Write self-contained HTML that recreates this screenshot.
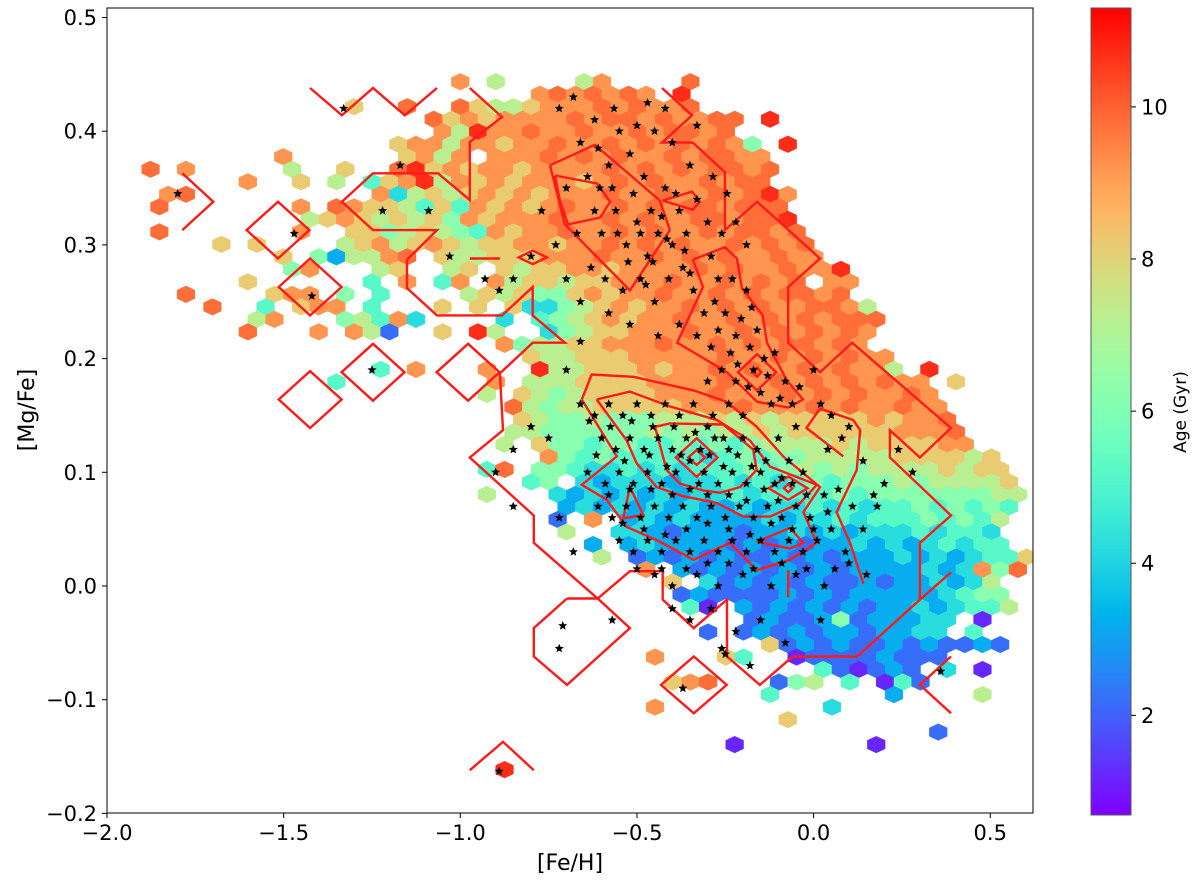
<!DOCTYPE html>
<html><head><meta charset="utf-8"><style>
html,body{margin:0;padding:0;background:#fff;}
svg text{font-family:"DejaVu Sans","Liberation Sans",sans-serif;}
</style></head><body>
<svg id="chart" width="1200" height="883" viewBox="0 0 1200 883" xmlns="http://www.w3.org/2000/svg">
<defs><clipPath id="pc"><rect x="107" y="8" width="926" height="805"/></clipPath></defs>
<g id="hexes" clip-path="url(#pc)"></g>
<g id="contours" clip-path="url(#pc)"></g>
<g id="stars" clip-path="url(#pc)"></g>
<rect x="107" y="8" width="926" height="805" fill="none" stroke="#000" stroke-width="1"/>
<g id="xaxis"></g>
<g id="yaxis"></g>
<text x="570" y="870" font-size="22" text-anchor="middle">[Fe/H]</text>
<text x="34" y="410" font-size="22" text-anchor="middle" transform="rotate(-90 34 410)">[Mg/Fe]</text>
<g id="cbar"></g>
<text x="1186" y="412" font-size="17" text-anchor="middle" transform="rotate(-90 1186 412)">Age (Gyr)</text>
</svg>
<script>
// ---- data ----
const hexRow   = [0,1,2,3,4,5,6,7,8,9,10,11,12,13,14,15,16,17,18,19,20,21,22,23,24,25,26,27,28,29,30,31,32,33,34,35,36,37,38,39,40,41,42,43,44,45,46,47,48,49,50,51,52,53,55];
const hexStart = [18,21,12,16,17,14,8,0,6,1,1,9,1,4,8,8,6,2,4,6,6,20,22,13,11,19,21,21,21,20,22,19,22,19,24,23,24,25,26,28,30,30,31,34,32,35,29,38,30,35,29,36,45,33,20];
const hexAges  = [
"9.7....79....a",
".9a9a9a9.b",
"8..a..a8778999a9a99a",
"a8989999a9aa9a99aa.b",
"97b99a99a99a9aa9a",
"899799899a99a9a9a9a96.b",
"9......8979.999a9a9a99a9aa99",
"a.9.....7..8..ab8989989999a9a9a9aa9a",
"9..8.7.589b7989899989a9a99a9aa",
"9a..........9478789898999a99a99a9ab9",
"a.......9.a988758598989a99a9a9aa9aaa",
"78987878698999a99a9a99aa9aab",
"a.......9..886787659899a99a9a99a9aa9a",
"8.8....789789878899899a9a9a99a9a9a",
"8.63779a.877888999a99a9a9a99a99",
"69...78..78.87889989999a9a99a99b",
"8......5.9.59.9788788999a99a9a9a.99",
"a....899.6.5....78786689899a99a9a9aa9a",
"a..5.899.5...8.8.8446789899a9a9a99aa97",
"79...67594....4.56789899a99a9a9a9aaa",
"a...9.972..8.b7..46788999a99a9a9a9a9",
"967788999a99a9a9aa9a9",
"87788899999a99a9a9a99",
"5.9...9..b778889899a9a99a9a997.b",
"5........9.77788889999a99a9a9a9a99.8",
"7.87678888999a999a9a9a99a9",
"a767788888999a999a9a99a99",
"876676667778787888889899a",
"7766666676767787888888999a",
"7.8665665565656777787888899",
".96565555545656677777888878",
"5a.66544545455565676767777878 8".replace(" ",""),
"56.4344434454545656667677778",
"7...434343434454555565666666677",
"34343434334344545455656565",
"2.9.3434333343445455565657",
"7..4432333233434344454554",
"3.3433332323233434345455",
"7.2323232232323334343455 8".replace(" ",""),
"9.3232323232333343496a",
"8.42323232232334347",
"2322223232333334566",
"51.3232323233434557",
"232236233344.1",
"2.2323233233 44.5".replace(" ",""),
"82323223232232",
"9...85..122223222",
"521232.4.1",
"89a...267.5.152",
"5......3....7",
"9.........4",
"8",
"2",
"1.......1",
"b"
];
const xTicks = [-2.0,-1.5,-1.0,-0.5,0.0,0.5];
const xTickLabels = ["\u22122.0","\u22121.5","\u22121.0","\u22120.5","0.0","0.5"];
const yTicks = [-0.2,-0.1,0.0,0.1,0.2,0.3,0.4,0.5];
const yTickLabels = ["\u22120.2","\u22120.1","0.0","0.1","0.2","0.3","0.4","0.5"];
const cbTicks = [2,4,6,8,10];
const cbTickLabels = ["2","4","6","8","10"];
const ageMin = 0.69, ageMax = 11.3;
const hexFe0 = -1.9018, hexDFe = 0.0501, hexMg0 = 0.4435, hexDMg = 0.011;

const contourLines = [
 [[-0.973,0.438],[-0.882,0.4125],[-0.973,0.3905],[-0.973,0.3395],[-1.063,0.363],[-1.247,0.363],[-1.335,0.338],[-1.247,0.313],[-1.066,0.313],[-1.151,0.287],[-1.151,0.262],[-1.066,0.238],[-0.882,0.238],[-0.795,0.263],[-0.795,0.238],[-0.704,0.214],[-0.795,0.214],[-0.888,0.187],[-0.879,0.137],[-0.973,0.113],[-0.792,0.062],[-0.792,0.038],[-0.611,-0.011],[-0.520,0.013],[-0.427,0.013],[-0.427,-0.012],[-0.339,-0.037],[-0.245,-0.012],[-0.245,-0.062],[-0.152,-0.087],[-0.059,-0.062],[0.123,-0.062],[0.301,-0.012],[0.301,0.038],[0.389,0.062],[0.216,0.113],[0.216,0.137],[0.301,0.113],[0.389,0.139],[0.109,0.214],[0.018,0.188],[-0.072,0.214],[-0.072,0.263],[0.018,0.288],[-0.160,0.338],[-0.251,0.313],[-0.251,0.364],[-0.342,0.390],[-0.429,0.390],[-0.344,0.414],[-0.429,0.438]],
 [[0.301,-0.012],[0.389,0.012]],
 [[0.389,-0.062],[0.301,-0.087],[0.389,-0.112]],
 [[-1.425,0.438],[-1.335,0.414],[-1.247,0.438],[-1.157,0.414],[-1.066,0.438]],
 [[-1.787,0.363],[-1.699,0.338],[-1.787,0.313]],
 [[-0.973,-0.162],[-0.879,-0.137],[-0.792,-0.162]],
 [[-0.973,0.288],[-0.888,0.288]],
 [[-0.072,0.014],[-0.072,-0.010]],
 [[-0.698,-0.011],[-0.792,-0.037],[-0.792,-0.062],[-0.698,-0.087],[-0.520,-0.037],[-0.611,-0.011],[-0.698,-0.011]],
 [[-0.746,0.370],[-0.619,0.388],[-0.435,0.339],[-0.407,0.313],[-0.520,0.260],[-0.704,0.318],[-0.746,0.370]],
 [[-0.732,0.361],[-0.613,0.354],[-0.576,0.338],[-0.604,0.324],[-0.695,0.318],[-0.718,0.339],[-0.732,0.361]],
 [[-0.427,0.339],[-0.344,0.347],[-0.322,0.338],[-0.342,0.331],[-0.427,0.339]],
 [[-0.342,0.287],[-0.251,0.298],[-0.217,0.288],[-0.203,0.262],[-0.144,0.238],[-0.132,0.214],[-0.076,0.181],[-0.030,0.164],[-0.072,0.157],[-0.160,0.162],[-0.245,0.188],[-0.386,0.214],[-0.313,0.263],[-0.342,0.287]],
 [[-0.656,0.164],[-0.628,0.186],[-0.510,0.184],[-0.340,0.172],[-0.246,0.162],[-0.161,0.140],[-0.086,0.114],[0.018,0.087],[-0.029,0.065],[0.009,0.038],[-0.067,0.023],[-0.161,0.014],[-0.237,0.038],[-0.340,0.023],[-0.435,0.039],[-0.529,0.052],[-0.586,0.076],[-0.656,0.089],[-0.557,0.114],[-0.656,0.164]],
 [[-0.614,0.164],[-0.520,0.171],[-0.407,0.158],[-0.274,0.146],[-0.180,0.128],[-0.123,0.105],[0.009,0.089],[-0.038,0.073],[-0.123,0.061],[-0.199,0.061],[-0.274,0.073],[-0.369,0.079],[-0.444,0.087],[-0.501,0.108],[-0.529,0.128],[-0.614,0.164]],
 [[-0.449,0.140],[-0.407,0.143],[-0.256,0.142],[-0.171,0.120],[-0.161,0.102],[-0.208,0.087],[-0.265,0.082],[-0.312,0.084],[-0.378,0.090],[-0.416,0.102],[-0.449,0.140]],
 [[-0.539,0.0595],[-0.520,0.087],[-0.482,0.0625],[-0.539,0.0595]],
 [[-0.161,0.039],[-0.067,0.051],[-0.029,0.038],[-0.067,0.033],[-0.161,0.039]],
 [[0.084,0.114],[-0.020,0.139],[0.018,0.156],[0.112,0.146],[0.132,0.137],[0.122,0.102],[0.065,0.065],[0.103,0.038],[0.141,0.002]]
];
const diamondFe = [-1.516,-1.425,-1.247,-1.425,-0.978,-0.339,-0.795,-0.160,-0.160,-0.331,-0.331,-0.072,-0.072];
const diamondMg = [0.313,0.263,0.188,0.164,0.188,-0.087,0.289,0.188,0.188,0.113,0.113,0.086,0.086];
const diamondHalfFe = [0.089,0.089,0.089,0.089,0.089,0.093,0.040,0.054,0.012,0.059,0.024,0.055,0.012];
const diamondHalfMg = [0.025,0.025,0.025,0.025,0.025,0.025,0.006,0.016,0.004,0.017,0.0065,0.0103,0.0035];

const starPts = [
[-0.72,0.42],[-0.68,0.43],[-0.62,0.41],[-0.55,0.40],[-0.52,0.38],[-0.58,0.37],[-0.64,0.36],[-0.70,0.35],[-0.66,0.39],[-0.45,0.40],[-0.40,0.39],[-0.48,0.36],[-0.42,0.35],[-0.38,0.33],[-0.33,0.34],[-0.30,0.32],[-0.36,0.31],[-0.40,0.30],[-0.44,0.31],[-0.47,0.29],[-0.50,0.32],[-0.53,0.30],[-0.56,0.33],[-0.60,0.31],[-0.63,0.28],[-0.59,0.27],[-0.54,0.26],[-0.49,0.27],[-0.45,0.25],[-0.41,0.27],[-0.37,0.28],[-0.34,0.26],[-0.29,0.29],[-0.26,0.31],[-0.22,0.32],[-0.19,0.30],[-0.27,0.27],[-0.31,0.24],[-0.38,0.23],[-0.44,0.22],[-0.52,0.23],[-0.58,0.24],[-0.66,0.25],[-0.70,0.27],[-0.73,0.30],[-0.77,0.33],[-0.80,0.29],[-0.85,0.27],[-0.89,0.26],[-0.93,0.27],[-1.09,0.33],[-1.17,0.37],[-1.33,0.42],[-1.22,0.33],[-1.03,0.29],[-0.42,0.42],[-0.35,0.37],[-0.57,0.35],[-0.46,0.33],[-0.62,0.33],
[-0.51,0.345],[-0.49,0.31],[-0.455,0.285],[-0.43,0.325],[-0.39,0.345],[-0.365,0.295],[-0.35,0.275],[-0.415,0.305],[-0.475,0.265],[-0.525,0.285],[-0.555,0.31],[-0.605,0.35],[-0.67,0.31],[-0.61,0.385],[-0.5,0.405],[-0.565,0.42],[-0.47,0.425],[-0.33,0.405],[-0.285,0.36],[-0.245,0.345],
[-0.33,0.22],[-0.29,0.21],[-0.25,0.24],[-0.22,0.22],[-0.18,0.21],[-0.26,0.19],[-0.30,0.18],[-0.22,0.18],[-0.17,0.19],[-0.15,0.17],[-0.20,0.15],[-0.24,0.16],[-0.12,0.16],[-0.08,0.18],[-0.05,0.14],[-0.10,0.13],[-0.14,0.20],[-0.28,0.25],[-0.23,0.27],[-0.19,0.26],[0.02,0.16],[0.05,0.15],[0.08,0.13],[0.10,0.14],[0.04,0.12],[0.14,0.11],[0.00,0.19],[0.17,0.08],[0.20,0.09],[0.24,0.12],
[-0.27,0.225],[-0.235,0.205],[-0.205,0.235],[-0.175,0.245],[-0.16,0.225],[-0.215,0.195],[-0.185,0.175],[-0.13,0.185],[-0.11,0.205],[-0.095,0.165],[-0.06,0.16],[-0.04,0.175],
[-0.66,0.16],[-0.62,0.15],[-0.58,0.16],[-0.54,0.15],[-0.50,0.16],[-0.46,0.15],[-0.42,0.16],[-0.38,0.15],[-0.34,0.16],[-0.30,0.14],[-0.60,0.13],[-0.56,0.12],[-0.52,0.13],[-0.48,0.12],[-0.44,0.13],[-0.40,0.12],[-0.36,0.13],[-0.32,0.12],[-0.28,0.13],[-0.24,0.12],[-0.20,0.13],[-0.16,0.12],
[-0.64,0.10],[-0.59,0.09],[-0.55,0.10],[-0.51,0.09],[-0.47,0.10],[-0.43,0.09],[-0.39,0.10],[-0.35,0.11],[-0.31,0.10],[-0.27,0.09],[-0.23,0.10],[-0.19,0.09],[-0.15,0.10],[-0.11,0.09],[-0.07,0.11],[-0.03,0.10],
[-0.61,0.07],[-0.57,0.06],[-0.53,0.07],[-0.49,0.06],[-0.45,0.07],[-0.41,0.06],[-0.37,0.07],[-0.33,0.06],[-0.29,0.07],[-0.25,0.06],[-0.21,0.07],[-0.17,0.06],[-0.13,0.07],[-0.09,0.06],[-0.05,0.07],[-0.01,0.06],[0.03,0.08],
[-0.55,0.04],[-0.51,0.03],[-0.47,0.04],[-0.43,0.03],[-0.39,0.04],[-0.35,0.03],[-0.31,0.04],[-0.27,0.03],[-0.23,0.04],[-0.19,0.03],[-0.15,0.04],[-0.11,0.03],[-0.07,0.04],[-0.03,0.03],[0.01,0.04],[0.05,0.05],[0.09,0.03],
[-0.45,0.01],[-0.40,0.00],[-0.33,0.01],[-0.27,0.00],[-0.20,0.01],[-0.12,0.00],[-0.05,0.01],[0.03,0.00],[0.10,0.02],[0.14,0.05],
[-0.40,-0.02],[-0.35,-0.03],[-0.29,-0.02],[-0.22,-0.04],[-0.15,-0.03],[-0.08,-0.05],[0.02,-0.03],[-0.25,-0.06],[-0.18,-0.07],
[-0.635,0.145],[-0.575,0.14],[-0.515,0.145],[-0.455,0.14],[-0.395,0.14],[-0.335,0.135],[-0.285,0.15],[-0.255,0.13],[-0.615,0.115],[-0.535,0.11],[-0.465,0.115],[-0.415,0.105],[-0.375,0.115],[-0.325,0.09],[-0.295,0.115],[-0.255,0.105],[-0.215,0.115],[-0.175,0.105],[-0.135,0.11],[-0.09,0.095],[-0.58,0.08],[-0.52,0.085],[-0.46,0.085],[-0.4,0.08],[-0.35,0.085],[-0.3,0.08],[-0.24,0.08],[-0.19,0.075],[-0.14,0.085],[-0.1,0.075],[-0.06,0.09],[-0.02,0.08],[-0.54,0.055],[-0.48,0.05],[-0.42,0.045],[-0.36,0.05],[-0.3,0.055],[-0.24,0.05],[-0.18,0.045],[-0.12,0.055],[-0.06,0.05],[0.0,0.05],[0.04,0.065],[0.07,0.085],[0.11,0.07],[-0.5,0.015],[-0.43,0.015],[-0.36,0.015],[-0.3,0.02],[-0.24,0.02],[-0.17,0.015],[-0.09,0.02],[-0.02,0.015],[0.06,0.015],
[-0.70,0.19],[-0.75,0.13],[-0.80,0.14],[-0.85,0.12],[-0.90,0.10],[-0.72,0.06],[-0.68,0.03],[-0.71,-0.035],[-0.72,-0.055],[-0.37,-0.09],[-0.57,-0.03],[-0.26,-0.055],[0.36,-0.075],[0.15,0.01],[-0.89,-0.163],[-1.42,0.255],[-1.47,0.31],[-1.25,0.19],[-1.80,0.345],[-0.85,0.07],[-0.66,0.215],[0.18,0.07],[0.28,0.10]
];

// ---- axes ----
const X = fe => 107 + (fe + 2) * 353.3;
const Y = mg => 586 - mg * 1137;
const CB = a => 815 - (a - ageMin) / (ageMax - ageMin) * 807;
const NS = "http://www.w3.org/2000/svg";
function mk(tag, attrs, parent) {
  const e = document.createElementNS(NS, tag);
  for (const k in attrs) e.setAttribute(k, attrs[k]);
  parent.appendChild(e);
  return e;
}
function rainbow(a) {
  let x = (a - ageMin) / (ageMax - ageMin);
  x = Math.max(0, Math.min(1, x));
  const r = Math.min(1, Math.abs(2 * x - 0.5));
  const g = Math.sin(Math.PI * x);
  const b = Math.cos(Math.PI * x / 2);
  return `rgb(${Math.round(r*255)},${Math.round(g*255)},${Math.round(b*255)})`;
}
function ageOf(c) {
  if (c === 'a') return 9.8;
  if (c === 'b') return 10.7;
  return parseInt(c, 10) + 0.2;
}

// hexes
const hg = document.getElementById('hexes');
const hw = hexDFe * 353.3 / 2, hh = hexDMg * 1137 * 2 / 3;
hexRow.forEach((r, i) => {
  const s = hexAges[i];
  for (let j = 0; j < s.length; j++) {
    const c = s[j];
    if (c === '.' || c === ' ') continue;
    const k = hexStart[i] + j;
    const fe = hexFe0 + (k + (r % 2) * 0.5) * hexDFe;
    const mg = hexMg0 - r * hexDMg;
    const cx = X(fe), cy = Y(mg);
    const pts = [[0,-hh],[hw,-hh/2],[hw,hh/2],[0,hh],[-hw,hh/2],[-hw,-hh/2]].map(p => (cx+p[0]).toFixed(1)+','+(cy+p[1]).toFixed(1)).join(' ');
    const col = rainbow(ageOf(c));
    const el = mk('polygon', {points: pts, fill: col, stroke: col, 'stroke-width': 0.5}, hg);
    
    
  }
});

// contours
const cg = document.getElementById('contours');
contourLines.forEach(line => {
  const el = mk('polyline', {points: line.map(p => X(p[0]).toFixed(1)+','+Y(p[1]).toFixed(1)).join(' '), fill: 'none', stroke: '#ff1a1a', 'stroke-width': 2.4, 'stroke-linejoin': 'miter'}, cg);
  
  
});
diamondFe.forEach((fe, i) => {
  const mg = diamondMg[i], a = diamondHalfFe[i], b = diamondHalfMg[i];
  const pts = [[fe-a,mg],[fe,mg+b],[fe+a,mg],[fe,mg-b]].map(p => X(p[0]).toFixed(1)+','+Y(p[1]).toFixed(1)).join(' ');
  const el = mk('polygon', {points: pts, fill: 'none', stroke: '#ff1a1a', 'stroke-width': 2.4}, cg);
  
  
});

// stars
const sg = document.getElementById('stars');
function starPath(cx, cy, R, r) {
  let d = '';
  for (let i = 0; i < 10; i++) {
    const ang = -Math.PI / 2 + i * Math.PI / 5;
    const rad = i % 2 ? r : R;
    d += (i ? 'L' : 'M') + (cx + rad * Math.cos(ang)).toFixed(1) + ' ' + (cy + rad * Math.sin(ang)).toFixed(1);
  }
  return d + 'Z';
}
starPts.forEach(p => {
  const el = mk('path', {d: starPath(X(p[0]), Y(p[1]), 4.8, 2.1), fill: '#000'}, sg);
  
  
});

// x axis
const xg = document.getElementById('xaxis');
xTicks.forEach((t, i) => {
  const x = X(t);
  const tk = mk('line', {x1: x, x2: x, y1: 813, y2: 818, stroke: '#000', 'stroke-width': 1}, xg);
  
  
  const tx = mk('text', {x: x, y: 840, 'font-size': 21, 'text-anchor': 'middle'}, xg);
  tx.textContent = xTickLabels[i];
  
  
});
// y axis
const yg = document.getElementById('yaxis');
yTicks.forEach((t, i) => {
  const y = Y(t);
  const tk = mk('line', {x1: 102, x2: 107, y1: y, y2: y, stroke: '#000', 'stroke-width': 1}, yg);
  
  
  const tx = mk('text', {x: 97, y: y + 7.5, 'font-size': 21, 'text-anchor': 'end'}, yg);
  tx.textContent = yTickLabels[i];
  
  
});
// colorbar
const cb = document.getElementById('cbar');
const defs = document.querySelector('defs');
const grad = mk('linearGradient', {id: 'cbg', x1: 0, y1: 1, x2: 0, y2: 0}, defs);
for (let i = 0; i <= 40; i++) {
  const f = i / 40;
  mk('stop', {offset: f, 'stop-color': rainbow(ageMin + f * (ageMax - ageMin))}, grad);
}
const cbr = mk('rect', {x: 1091, y: 8, width: 40, height: 807, fill: 'url(#cbg)', stroke: '#555', 'stroke-width': 1}, cb);


cbTicks.forEach((t, i) => {
  const y = CB(t);
  const tk = mk('line', {x1: 1131, x2: 1136, y1: y, y2: y, stroke: '#000', 'stroke-width': 1}, cb);
  
  
  const tx = mk('text', {x: 1141, y: y + 7.5, 'font-size': 21}, cb);
  tx.textContent = cbTickLabels[i];
  
  
});
</script>
</body></html>
